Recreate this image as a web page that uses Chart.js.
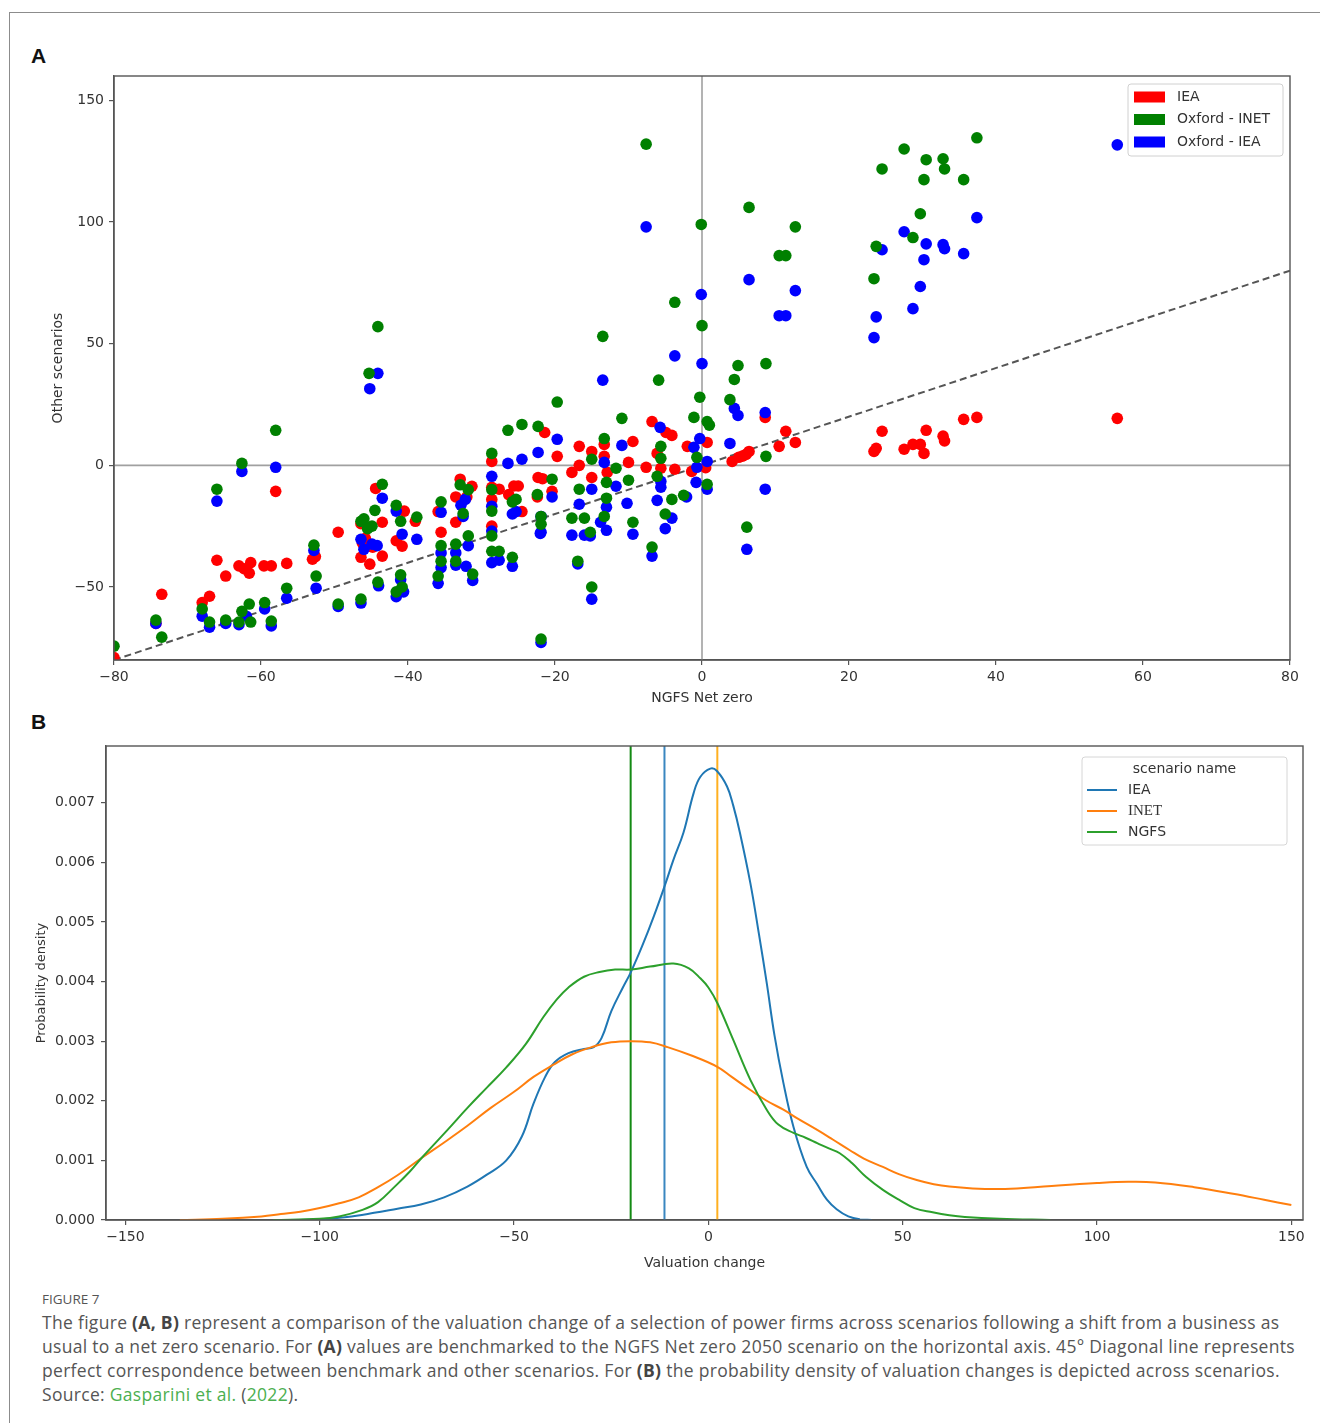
<!DOCTYPE html>
<html>
<head>
<meta charset="utf-8">
<script src="https://cdn.jsdelivr.net/npm/chart.js@4.4.1/dist/chart.umd.min.js"></script>
<style>
  html, body { margin:0; padding:0; background:#fff; }
  body { width:1320px; height:1423px; position:relative; overflow:hidden; }
  .frameTop { position:absolute; left:9px; top:12px; width:1311px; height:0; border-top:1.5px solid #8c8c8c; }
  .frameLeft { position:absolute; left:9px; top:12px; width:0; height:1411px; border-left:1.5px solid #8c8c8c; }
  .plabel { position:absolute; font-family:"Liberation Sans", Arial, sans-serif; font-weight:bold; font-size:21px; color:#111; }
  .wrap { position:absolute; left:0; }
  .cap { position:absolute; left:42px; font-family:"Open Sans", "Noto Sans", sans-serif; color:#555; white-space:nowrap; }
  .cap.txt { font-size:17.5px; letter-spacing:0.3px; }
  .cap b { color:#444; font-weight:700; }
  .cap .lnk { color:#4caf50; }
</style>
</head>
<body>
<div class="frameTop"></div>
<div class="frameLeft"></div>
<div class="plabel" style="left:31px;top:44px;">A</div>
<div class="plabel" style="left:31px;top:710px;">B</div>

<div class="wrap" style="top:60px;width:1320px;height:651px;"><canvas id="chartA" width="1320" height="651"></canvas></div>
<div class="wrap" style="top:730px;width:1320px;height:546px;"><canvas id="chartB" width="1320" height="546"></canvas></div>

<div class="cap" style="top:1290px;font-size:13.5px;">FIGURE 7</div>
<div class="cap txt" style="top:1310px;">The figure <b>(A, B)</b> represent a comparison of the valuation change of a selection of power firms across scenarios following a shift from a business as</div>
<div class="cap txt" style="top:1334px;">usual to a net zero scenario. For <b>(A)</b> values are benchmarked to the NGFS Net zero 2050 scenario on the horizontal axis. 45° Diagonal line represents</div>
<div class="cap txt" style="top:1358px;">perfect correspondence between benchmark and other scenarios. For <b>(B)</b> the probability density of valuation changes is depicted across scenarios.</div>
<div class="cap txt" style="top:1382px;">Source: <span class="lnk">Gasparini et al.</span> (<span class="lnk">2022</span>).</div>

<script>
// ---------------- Panel A data ----------------
const iea_x = [-80,-74.3,-73.5,-68,-67,-66,-64.8,-63,-62.3,-61.6,-61.4,-59.6,-58.6,-58,-56.5,-53,-52.6,-49.5,-46.4,-45.8,-46.2,-46.4,-45.2,-44.8,-44.4,-43.5,-43.5,-41.6,-40.8,-40.5,-39,-35.9,-35.5,-33.5,-32.9,-33.5,-32,-31.3,-28.6,-28.6,-28.6,-28.6,-27.6,-26.3,-25.6,-25,-24.5,-22.3,-21.7,-21.4,-19.7,-20.4,-22.4,-17.7,-16.7,-16.7,-15,-15,-13.3,-13.3,-12.9,-10,-9.4,-7.6,-6.8,-6.1,-5.6,-4.9,-4.1,-3.7,-2,-1.4,0.7,0.5,4.1,5,5.5,6,6.4,8.6,10.5,11.4,12.7,23.4,23.7,24.5,27.5,28.7,29.7,30.2,30.5,32.8,33,35.6,37.4,56.5];
const iea_y = [-79,-65,-53,-56.4,-53.8,-39,-45.5,-41.3,-42.5,-44.3,-40,-41.3,-41.3,-10.7,-40.3,-38.6,-37.5,-27.5,-24,-30,-32,-37.8,-40.6,-33.6,-9.5,-23.4,-37.3,-31,-33.2,-18.8,-23,-19,-27.5,-13,-5.7,-23.4,-13,-8.6,1.6,-9,-14,-25,-9.8,-12,-8.5,-8.5,-19,-5,-5.5,13.5,3.7,-10.7,-13,-2.9,7.8,0,5.7,-5,8.6,3.7,-2.9,1.2,9.8,-0.8,18,4.9,-1.2,13.5,12.3,-1.6,7.8,-2.5,9.4,-1,1.6,3.3,3.8,4.5,5.7,19.7,7.8,14,9.4,5.7,7,14,6.6,8.6,8.6,4.9,14.4,12,10,18.9,19.7,19.3];

const inet_x = [-80,-74.3,-73.5,-68,-67,-66,-64.8,-63,-62.6,-62.6,-61.6,-61.4,-59.5,-58.6,-58,-56.5,-52.8,-52.5,-49.5,-46.4,-46.4,-46,-45.3,-45.5,-44.5,-44.9,-44.1,-44.1,-43.5,-41.6,-41.6,-41,-41,-40.8,-38.8,-35.5,-35.5,-35.5,-35.9,-32.9,-32.5,-31.8,-31.8,-33.5,-33.5,-31.2,-28.6,-28.6,-28.6,-28.6,-28.6,-27.6,-26.4,-25.8,-25.3,-25.8,-24.5,-22.3,-22.4,-21.9,-21.9,-21.9,-20.4,-19.7,-17.7,-16.9,-16.7,-16,-15.2,-15,-15,-13.5,-13.3,-13,-13,-13.3,-11.7,-10.9,-10,-9.4,-7.6,-6.8,-5.9,-5.6,-5.6,-6.1,-5,-4.1,-3.7,-2.5,-1.1,-0.7,-0.3,-0.1,0,0.7,1,0.7,3.8,4.4,4.9,6.1,6.4,8.7,8.7,10.5,11.4,12.7,23.4,23.7,24.5,27.5,28.7,29.7,30.2,30.5,32.8,33,35.6,37.4];
const inet_y = [-74.3,-63.6,-70.6,-59,-64.4,-9.8,-63.6,-64.4,0.8,-60,-57,-64.4,-56.4,-64,14.4,-50.5,-32.8,-45.5,-57,-55,-23,-22,37.8,-26,-18.5,-25,57,-48,-7.8,-16.4,-52,-23,-45,-50,-21.3,-15,-33,-39.4,-45.5,-8,-19.8,-10,-29,-32.4,-39.4,-44.7,4.9,-10,-18.8,-29,-35.3,-35.3,14.4,-15,-14,-37.8,16.8,16,-12,-21,-24.2,-71.4,-5.7,26,-21.7,-39.4,-9.8,-21.7,-27.5,2.5,-50,53,11,-7,-13.5,-21,-1.2,19.3,-6.1,-23.4,132,-33.6,35,7.8,2.9,-4.5,-20,-14,67,-12.3,19.7,3.3,28,99,57.4,18,16.5,-7.8,27,35.3,41,-25.4,106,41.8,3.7,86.2,86.2,98,76.7,90,121.8,130,93.6,103.4,117.4,125.6,126,121.8,117.4,134.6];

const oxiea_x = [-74.3,-68,-67,-66,-64.8,-63,-62.6,-62,-59.5,-58.6,-58,-56.5,-52.8,-52.5,-49.5,-46.4,-46.4,-45.2,-44.1,-44.9,-46,-44.2,-43.5,-44,-41.6,-41.6,-40.8,-41,-40.6,-38.8,-35.5,-35.5,-35.5,-35.9,-32.8,-32.5,-32.2,-31.8,-33.5,-33.5,-32.1,-31.2,-28.6,-28.6,-28.6,-28.6,-27.6,-26.4,-25.8,-25.3,-25.8,-24.5,-22.3,-21.9,-21.9,-22,-21.9,-20.4,-19.7,-17.7,-16.9,-16.7,-16,-15.2,-15,-15,-13.5,-13.3,-13.8,-13,-13,-11.7,-10.9,-10.2,-9.4,-7.6,-6.8,-5.7,-6.1,-5.6,-5.6,-4.1,-5,-3.7,-2.1,-1.1,-0.3,-0.7,0.7,-0.8,0.7,-0.1,0,3.8,4.4,4.9,6.1,6.4,8.6,8.6,10.5,11.4,12.7,23.4,23.7,24.5,27.5,28.7,29.7,30.2,30.5,32.8,33,35.6,37.4,56.5];
const oxiea_y = [-65,-62,-66.5,-14.7,-65,-65.5,-2.5,-62,-59,-66,-0.8,-54.6,-35,-50.5,-58,-56.6,-30.4,31.5,37.8,-32.4,-34.5,-33,-13.5,-49.5,-18.8,-54,-28.3,-47,-52,-30.4,-19.3,-36,-42,-48.5,-16.4,-21,-14,-33,-36,-41,-41.5,-47.3,-4.5,-16.8,-27,-40,-39,0.8,-20,-19,-41.5,2.5,5.3,-21,-27.5,-28,-72.8,-13,10.7,-28.7,-40.5,-16,-28.7,-29,-9.8,-55,35,1.2,-23.4,-17.2,-26.7,-8.6,8.2,-15.6,-28.3,98,-37.3,15.6,-14.4,-6.6,-9,-21.7,-26,45,-13,7.4,11,-0.8,1.6,-7,-9.8,70.2,41.8,9,23.4,20.5,-34.5,76.3,21.7,-9.8,61.5,61.5,71.8,52.5,61,88.6,96,64.4,73.5,84.5,91,90.7,89,87,101.8,131.7];

const seriesLabelsA = ['IEA', 'Oxford - INET', 'Oxford - IEA'];
const diagonal_x = [-80, 80];
const diagonal_y = [-80, 80];
const xTicksA = [-80, -60, -40, -20, 0, 20, 40, 60, 80];
const yTicksA = [-50, 0, 50, 100, 150];

// ---------------- Panel B data ----------------
const iea_kde_x = [-105,-100,-93,-86,-80,-74,-68,-62,-57,-52,-48,-45,-42,-39.5,-36,-32,-29.5,-27.5,-25,-22,-20,-17,-14,-11,-9,-6.4,-3.8,-2.1,0.5,2.2,4.8,6.4,8.1,10.8,13,15,17,19.3,21.9,25.3,28,30.5,33,36,39,42];
const iea_kde_y = [0,0.00001,0.00005,0.00012,0.00019,0.00026,0.00038,0.00056,0.00076,0.001,0.0014,0.00195,0.0024,0.00265,0.0028,0.00287,0.0029,0.00305,0.0035,0.0039,0.00415,0.0046,0.0051,0.00565,0.00604,0.0065,0.00716,0.00743,0.00757,0.00753,0.00727,0.00695,0.0065,0.00565,0.0048,0.00398,0.0031,0.0023,0.00156,0.00089,0.0006,0.00034,0.00018,0.00006,0.00001,0];

const inet_kde_x = [-136,-125,-115,-110,-105,-100,-95,-90,-85,-80,-73.8,-68,-62,-56,-50,-45,-40,-35,-30,-25,-20,-15,-10.5,-4,2.3,6,10.8,15,19.3,23,28,32,36.4,40,44.9,49,53.6,58,62,68,75,82,90,100,108,115,125,135,143,150];
const inet_kde_y = [0,0.00002,0.00006,0.0001,0.00014,0.0002,0.00028,0.00038,0.00055,0.00075,0.00104,0.0013,0.00158,0.00188,0.00215,0.0024,0.0026,0.00278,0.0029,0.00298,0.003,0.00298,0.0029,0.00275,0.00257,0.0024,0.00218,0.002,0.00185,0.0017,0.00151,0.00135,0.00117,0.00103,0.00089,0.00077,0.00067,0.0006,0.00056,0.00053,0.00052,0.00054,0.00058,0.00062,0.00064,0.00063,0.00055,0.00044,0.00034,0.00025];

const ngfs_kde_x = [-112,-100,-95,-89,-85,-80.7,-77,-73.8,-67,-62,-57,-52,-47,-42.5,-39,-36,-32,-28,-24,-20,-15,-9,-5,-2,0,2.3,6.4,10.8,15,18,21.9,25,28,31,33.8,37,40.6,45,49,53,57.7,62,66,75,88];
const ngfs_kde_y = [0,0.00002,0.00006,0.00017,0.0003,0.00056,0.0008,0.00104,0.00152,0.00188,0.00222,0.00256,0.00295,0.0034,0.0037,0.0039,0.00408,0.00416,0.0042,0.0042,0.00425,0.0043,0.00422,0.00405,0.0039,0.00364,0.00302,0.00235,0.00185,0.0016,0.00146,0.00138,0.00129,0.0012,0.00112,0.00095,0.00072,0.0005,0.00034,0.0002,0.00013,0.00008,0.00005,0.00002,0];

const meanLines = { IEA: -11.3, INET: 2.3, NGFS: -20 };
const seriesLabelsB = ['IEA', 'INET', 'NGFS'];
const xTicksB = [-150, -100, -50, 0, 50, 100, 150];
const yTicksB = [0, 0.001, 0.002, 0.003, 0.004, 0.005, 0.006, 0.007];

// ---------------- helpers ----------------
function pts(xs, ys) { return xs.map((x, i) => ({ x: x, y: ys[i] })); }
const fmtMinus = v => (v < 0 ? '\u2212' + Math.abs(v) : String(v));

Chart.defaults.font.family = '"DejaVu Sans", sans-serif';
Chart.defaults.color = '#333';

const frameBox = {
  id: 'frameBox',
  afterDraw(chart) {
    const ca = chart.chartArea, ctx = chart.ctx;
    ctx.save();
    ctx.strokeStyle = '#555';
    ctx.lineWidth = 1.4;
    ctx.strokeRect(ca.left, ca.top, ca.right - ca.left, ca.bottom - ca.top);
    ctx.restore();
  }
};

const legendA = {
  id: 'legendA',
  afterDraw(chart) {
    const ctx = chart.ctx, ca = chart.chartArea;
    const w = 155, h = 72;
    const x0 = ca.right - 7 - w, y0 = ca.top + 8;
    ctx.save();
    ctx.fillStyle = 'rgba(255,255,255,0.85)';
    ctx.strokeStyle = '#d0d0d0';
    ctx.lineWidth = 1;
    ctx.beginPath();
    if (ctx.roundRect) ctx.roundRect(x0, y0, w, h, 3); else ctx.rect(x0, y0, w, h);
    ctx.fill(); ctx.stroke();
    ctx.font = '14px "DejaVu Sans", sans-serif';
    ctx.textBaseline = 'middle';
    seriesLabelsA.forEach((lab, i) => {
      const d = chart.data.datasets.find(q => q.label === lab);
      const cy = y0 + 13 + i * 22.5;
      ctx.fillStyle = d.backgroundColor;
      ctx.fillRect(x0 + 6, cy - 5.5, 31, 11);
      ctx.fillStyle = '#333';
      ctx.fillText(lab, x0 + 49, cy);
    });
    ctx.restore();
  }
};

const legendB = {
  id: 'legendB',
  afterDraw(chart) {
    const ctx = chart.ctx, ca = chart.chartArea;
    const w = 205, h = 88;
    const x0 = ca.right - 16 - w, y0 = ca.top + 11;
    ctx.save();
    ctx.fillStyle = 'rgba(255,255,255,0.85)';
    ctx.strokeStyle = '#d6d6d6';
    ctx.lineWidth = 1;
    ctx.beginPath();
    if (ctx.roundRect) ctx.roundRect(x0, y0, w, h, 3); else ctx.rect(x0, y0, w, h);
    ctx.fill(); ctx.stroke();
    ctx.textBaseline = 'middle';
    ctx.fillStyle = '#333';
    ctx.font = '14px "DejaVu Sans", sans-serif';
    ctx.textAlign = 'center';
    ctx.fillText('scenario name', x0 + w / 2, y0 + 12);
    ctx.textAlign = 'left';
    const fonts = ['14px "DejaVu Sans", sans-serif', '15px "Liberation Serif", serif', '14px "DejaVu Sans", sans-serif'];
    seriesLabelsB.forEach((lab, i) => {
      const d = chart.data.datasets.find(q => q.label === lab);
      const cy = y0 + 33 + i * 21;
      ctx.strokeStyle = d.borderColor;
      ctx.lineWidth = 2;
      ctx.beginPath(); ctx.moveTo(x0 + 5, cy); ctx.lineTo(x0 + 35, cy); ctx.stroke();
      ctx.fillStyle = '#333';
      ctx.font = fonts[i];
      ctx.fillText(lab, x0 + 46, cy);
    });
    ctx.restore();
  }
};

// ---------------- Chart A ----------------
new Chart(document.getElementById('chartA'), {
  type: 'scatter',
  data: {
    datasets: [
      { label: seriesLabelsA[0], data: pts(iea_x, iea_y), backgroundColor: '#ff0000', borderWidth: 0, pointRadius: 5.8, order: 2 },
      { label: seriesLabelsA[1], data: pts(inet_x, inet_y), backgroundColor: '#008000', borderWidth: 0, pointRadius: 5.8, order: 0 },
      { label: seriesLabelsA[2], data: pts(oxiea_x, oxiea_y), backgroundColor: '#0000ff', borderWidth: 0, pointRadius: 5.8, order: 1 },
      { label: 'diag', data: pts(diagonal_x, diagonal_y), showLine: true, borderColor: '#555', borderWidth: 2, borderDash: [7, 4], pointRadius: 0, order: 3 },
      { label: 'h0', data: [{ x: -80, y: 0 }, { x: 80, y: 0 }], showLine: true, borderColor: '#a0a0a0', borderWidth: 1.6, pointRadius: 0, order: 4 },
      { label: 'v0', data: [{ x: 0, y: -80 }, { x: 0, y: 160 }], showLine: true, borderColor: '#a0a0a0', borderWidth: 1.6, pointRadius: 0, order: 5 }
    ]
  },
  options: {
    responsive: false, animation: false, devicePixelRatio: 1,
    layout: { padding: { top: 16, left: 46, right: 30, bottom: 0 } },
    plugins: { legend: { display: false }, tooltip: { enabled: false } },
    scales: {
      x: {
        type: 'linear', min: -80, max: 80,
        afterBuildTicks: s => { s.ticks = xTicksA.map(v => ({ value: v })); },
        afterFit: s => { s.height = 51; },
        ticks: { callback: fmtMinus, font: { size: 14 }, color: '#333', padding: 4, maxRotation: 0 },
        grid: { display: true, drawOnChartArea: false, drawTicks: true, tickLength: 5, color: '#555', lineWidth: 1.2 },
        border: { display: true, color: '#555', width: 1.4 },
        title: { display: true, text: 'NGFS Net zero', font: { size: 14 }, color: '#333', padding: { top: 4, bottom: 4 } }
      },
      y: {
        type: 'linear', min: -80, max: 160,
        afterBuildTicks: s => { s.ticks = yTicksA.map(v => ({ value: v })); },
        afterFit: s => { s.width = 68; },
        ticks: { callback: fmtMinus, font: { size: 14 }, color: '#333', padding: 5 },
        grid: { display: true, drawOnChartArea: false, drawTicks: true, tickLength: 5, color: '#555', lineWidth: 1.2 },
        border: { display: true, color: '#555', width: 1.4 },
        title: { display: true, text: 'Other scenarios', font: { size: 14 }, color: '#333', padding: { top: 4, bottom: 4 } }
      }
    }
  },
  plugins: [frameBox, legendA]
});

// ---------------- Chart B ----------------
const yMaxB = 0.00795;
function vline(x) { return [{ x: x, y: 0 }, { x: x, y: yMaxB }]; }
const curveStyle = { showLine: true, borderWidth: 2, pointRadius: 0, tension: 0.4 };
new Chart(document.getElementById('chartB'), {
  type: 'scatter',
  data: {
    datasets: [
      Object.assign({ label: 'IEA', data: pts(iea_kde_x, iea_kde_y), borderColor: '#1f77b4', order: 2 }, curveStyle),
      Object.assign({ label: 'INET', data: pts(inet_kde_x, inet_kde_y), borderColor: '#ff7f0e', order: 1 }, curveStyle),
      Object.assign({ label: 'NGFS', data: pts(ngfs_kde_x, ngfs_kde_y), borderColor: '#2ca02c', order: 0 }, curveStyle),
      { label: 'NGFS mean', data: vline(meanLines.NGFS), showLine: true, borderColor: '#138a13', borderWidth: 2, pointRadius: 0, order: 3 },
      { label: 'IEA mean', data: vline(meanLines.IEA), showLine: true, borderColor: '#3a87c0', borderWidth: 2, pointRadius: 0, order: 3 },
      { label: 'INET mean', data: vline(meanLines.INET), showLine: true, borderColor: '#ffb020', borderWidth: 2, pointRadius: 0, order: 3 }
    ]
  },
  options: {
    responsive: false, animation: false, devicePixelRatio: 1,
    layout: { padding: { top: 16, left: 30, right: 17, bottom: 0 } },
    plugins: { legend: { display: false }, tooltip: { enabled: false } },
    scales: {
      x: {
        type: 'linear', min: -155, max: 153,
        afterBuildTicks: s => { s.ticks = xTicksB.map(v => ({ value: v })); },
        afterFit: s => { s.height = 56; },
        ticks: { callback: fmtMinus, font: { size: 14 }, color: '#333', padding: 4, maxRotation: 0 },
        grid: { display: true, drawOnChartArea: false, drawTicks: true, tickLength: 5, color: '#555', lineWidth: 1.2 },
        border: { display: true, color: '#555', width: 1.4 },
        title: { display: true, text: 'Valuation change', font: { size: 14 }, color: '#333', padding: { top: 4, bottom: 4 } }
      },
      y: {
        type: 'linear', min: 0, max: yMaxB,
        afterBuildTicks: s => { s.ticks = yTicksB.map(v => ({ value: v })); },
        afterFit: s => { s.width = 76; },
        ticks: { callback: v => v.toFixed(3), font: { size: 14 }, color: '#333', padding: 6 },
        grid: { display: true, drawOnChartArea: false, drawTicks: true, tickLength: 5, color: '#555', lineWidth: 1.2 },
        border: { display: true, color: '#555', width: 1.4 },
        title: { display: true, text: 'Probability density', font: { size: 13 }, color: '#333', padding: { top: 4, bottom: 4 } }
      }
    }
  },
  plugins: [frameBox, legendB]
});
</script>
</body>
</html>
